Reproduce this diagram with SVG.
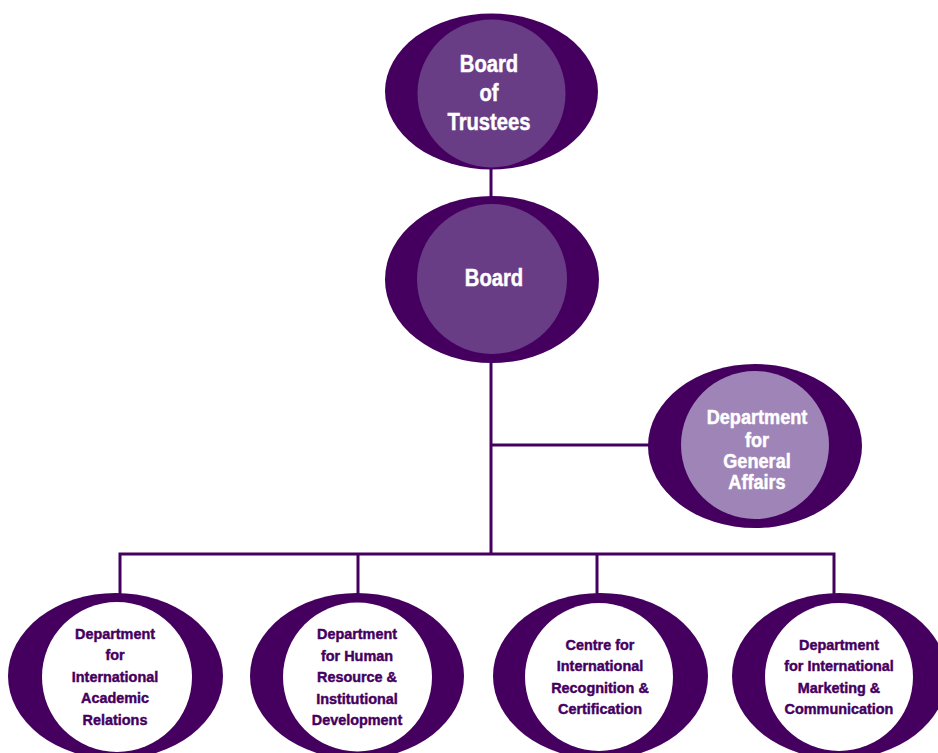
<svg xmlns="http://www.w3.org/2000/svg" width="938" height="753" viewBox="0 0 938 753">
  <style>
    .outer { fill: #45005f; }
    .inner-dark { fill: #693c86; }
    .inner-light { fill: #9e84b7; }
    .inner-white { fill: #ffffff; }
    .link { fill: none; stroke: #45005f; stroke-width: 3; }
    text { font-family: "Liberation Sans", Arial, sans-serif; font-weight: bold; text-anchor: middle; stroke-width: 0.45; }
    .lbl-lg { font-size: 23px; fill: #ffffff; stroke: #ffffff; }
    .lbl-md { font-size: 19.5px; fill: #ffffff; stroke: #ffffff; }
    .lbl-sm { font-size: 15.5px; fill: #45005f; stroke: #45005f; }
  </style>

  <rect width="938" height="753" fill="#ffffff"/>

  <!-- connectors -->
  <g id="connectors">
    <line class="link" x1="491" y1="168" x2="491" y2="198"/>
    <line class="link" x1="491" y1="360" x2="491" y2="554"/>
    <line class="link" x1="491" y1="445" x2="652" y2="445"/>
    <polyline class="link" points="120,596 120,554 834,554 834,596"/>
    <line class="link" x1="358" y1="554" x2="358" y2="596"/>
    <line class="link" x1="597" y1="554" x2="597" y2="596"/>
  </g>

  <!-- Board of Trustees -->
  <g id="board-of-trustees">
    <ellipse class="outer" cx="491.5" cy="91.5" rx="106.5" ry="78"/>
    <circle class="inner-dark" cx="491.5" cy="93.5" r="74"/>
    <g transform="translate(489,0) scale(0.88,1)">
      <text class="lbl-lg" x="0" y="72">Board</text>
      <text class="lbl-lg" x="0" y="101">of</text>
      <text class="lbl-lg" x="0" y="130">Trustees</text>
    </g>
  </g>

  <!-- Board -->
  <g id="board">
    <ellipse class="outer" cx="492" cy="279.5" rx="107" ry="83.5"/>
    <circle class="inner-dark" cx="492" cy="279" r="75"/>
    <g transform="translate(494,0) scale(0.88,1)">
      <text class="lbl-lg" x="0" y="286">Board</text>
    </g>
  </g>

  <!-- Department for General Affairs -->
  <g id="general-affairs">
    <ellipse class="outer" cx="755" cy="446" rx="107" ry="82"/>
    <circle class="inner-light" cx="755" cy="445" r="74"/>
    <g transform="translate(757,0) scale(0.93,1)">
      <text class="lbl-md" x="0" y="424">Department</text>
      <text class="lbl-md" x="0" y="447">for</text>
      <text class="lbl-md" x="0" y="468">General</text>
      <text class="lbl-md" x="0" y="489">Affairs</text>
    </g>
  </g>

  <!-- Department for International Academic Relations -->
  <g id="academic-relations">
    <ellipse class="outer" cx="115.5" cy="676" rx="107.5" ry="83"/>
    <circle class="inner-white" cx="117" cy="677" r="75"/>
    <g transform="translate(115,0) scale(0.93,1)">
      <text class="lbl-sm" x="0" y="639">Department</text>
      <text class="lbl-sm" x="0" y="660">for</text>
      <text class="lbl-sm" x="0" y="682">International</text>
      <text class="lbl-sm" x="0" y="703">Academic</text>
      <text class="lbl-sm" x="0" y="725">Relations</text>
    </g>
  </g>

  <!-- Department for Human Resource & Institutional Development -->
  <g id="human-resource">
    <ellipse class="outer" cx="357" cy="676" rx="107" ry="83"/>
    <circle class="inner-white" cx="357.5" cy="677" r="74.5"/>
    <g transform="translate(357,0) scale(0.93,1)">
      <text class="lbl-sm" x="0" y="639">Department</text>
      <text class="lbl-sm" x="0" y="661">for Human</text>
      <text class="lbl-sm" x="0" y="682">Resource &amp;</text>
      <text class="lbl-sm" x="0" y="704">Institutional</text>
      <text class="lbl-sm" x="0" y="725">Development</text>
    </g>
  </g>

  <!-- Centre for International Recognition & Certification -->
  <g id="recognition-certification">
    <ellipse class="outer" cx="600.5" cy="676" rx="107.5" ry="83"/>
    <circle class="inner-white" cx="599" cy="677" r="74"/>
    <g transform="translate(600,0) scale(0.93,1)">
      <text class="lbl-sm" x="0" y="650">Centre for</text>
      <text class="lbl-sm" x="0" y="671">International</text>
      <text class="lbl-sm" x="0" y="693">Recognition &amp;</text>
      <text class="lbl-sm" x="0" y="714">Certification</text>
    </g>
  </g>

  <!-- Department for International Marketing & Communication -->
  <g id="marketing-communication">
    <ellipse class="outer" cx="839.5" cy="676" rx="107.5" ry="83"/>
    <circle class="inner-white" cx="839" cy="677" r="74"/>
    <g transform="translate(839,0) scale(0.93,1)">
      <text class="lbl-sm" x="0" y="650">Department</text>
      <text class="lbl-sm" x="0" y="671">for International</text>
      <text class="lbl-sm" x="0" y="693">Marketing &amp;</text>
      <text class="lbl-sm" x="0" y="714">Communication</text>
    </g>
  </g>
</svg>
